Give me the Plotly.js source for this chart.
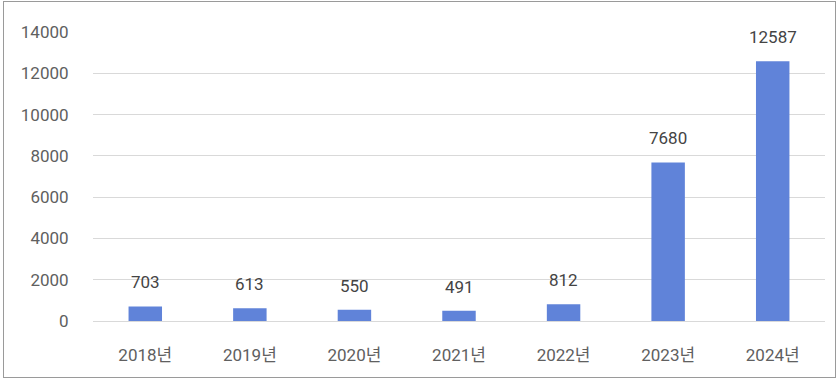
<!DOCTYPE html>
<html>
<head>
<meta charset="utf-8">
<script src="https://cdn.plot.ly/plotly-3.0.1.min.js"></script>
<style>
html,body{margin:0;padding:0;background:#fff;}
#frame{position:absolute;left:3px;top:1px;width:831px;height:375px;border:1px solid #9a9a9a;}
#chart{position:absolute;left:0;top:0;width:839px;height:383px;}
</style>
</head>
<body>
<div id="frame"></div>
<div id="chart"></div>
<script>
const categories = ['2018년','2019년','2020년','2021년','2022년','2023년','2024년'];
const values = [703, 613, 550, 491, 812, 7680, 12587];
const yTicks = [0, 2000, 4000, 6000, 8000, 10000, 12000, 14000];

const fontFam = 'Roboto, "Noto Sans CJK KR", sans-serif';

const trace = {
  type: 'bar',
  x: categories,
  y: values,
  marker: {color: '#6083D9'},
  hoverinfo: 'none'
};

const annotations = categories.map((c, i) => ({
  x: c, y: values[i], xref: 'x', yref: 'y',
  text: String(values[i]),
  showarrow: false, yanchor: 'bottom', yshift: 12,
  font: {family: fontFam, size: 17, color: '#444444'}
}));

const layout = {
  width: 839, height: 383,
  margin: {l: 93, r: 14, t: 32, b: 62},
  paper_bgcolor: 'rgba(0,0,0,0)',
  plot_bgcolor: 'rgba(0,0,0,0)',
  bargap: 0.68,
  showlegend: false,
  font: {family: fontFam, color: '#606060', size: 17},
  xaxis: {
    type: 'category',
    showgrid: false,
    showline: false,
    ticks: 'outside', ticklen: 19, tickcolor: 'rgba(0,0,0,0)',
    tickfont: {family: fontFam, size: 17, color: '#606060'}
  },
  yaxis: {
    range: [0, 14000],
    tickvals: yTicks,
    ticktext: yTicks.map(String),
    showgrid: true, gridcolor: '#d9d9d9', gridwidth: 1,
    zeroline: true, zerolinecolor: '#d9d9d9', zerolinewidth: 1,
    showline: false,
    ticks: 'outside', ticklen: 20, tickcolor: 'rgba(0,0,0,0)',
    tickfont: {family: fontFam, size: 17, color: '#606060'}
  },
  annotations: annotations
};

Plotly.newPlot('chart', [trace], layout, {displayModeBar: false, staticPlot: true});
</script>
</body>
</html>
